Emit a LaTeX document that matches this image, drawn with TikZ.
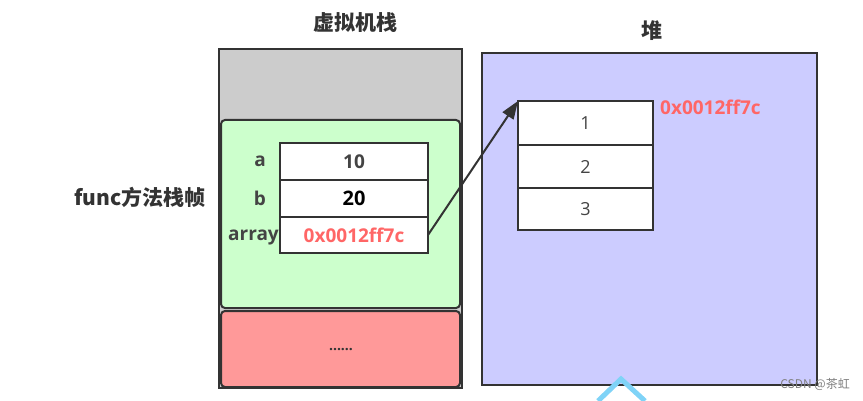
\documentclass[tikz,border=0pt]{standalone}
\usepackage{fontspec}
\setmainfont{Open Sans}
\newfontfamily\cjk{Noto Sans CJK SC}
\usetikzlibrary{arrows.meta}
\definecolor{dark}{HTML}{333333}
\definecolor{txt}{HTML}{444444}
\definecolor{grayfill}{HTML}{CCCCCC}
\definecolor{greenfill}{HTML}{CCFFCC}
\definecolor{redfill}{HTML}{FF9999}
\definecolor{heapfill}{HTML}{CCCCFF}
\definecolor{addr}{HTML}{FF6666}
\definecolor{logo}{HTML}{7FD3F7}
\tikzset{
  region/.style={draw=dark, line width=2.6pt, inner sep=0pt, outer sep=0pt},
  cell/.style={draw=dark, line width=2.2pt, fill=white, inner sep=0pt, outer sep=0pt},
  lbl/.style={text=txt, font=\fontsize{19}{22}\selectfont\bfseries, inner sep=0pt},
  num/.style={text=txt, font=\fontsize{18}{21}\selectfont, inner sep=0pt},
  title/.style={text=dark, font=\cjk\fontsize{21}{24}\selectfont\bfseries, inner sep=0pt},
}
\begin{document}
\begin{tikzpicture}[x=1pt,y=-1pt]
\useasboundingbox (0,0) rectangle (863,401);
% stack
\node[region, fill=grayfill, minimum width=243pt, minimum height=339pt] (stack) at (340.5,218.5) {};
\node[region, fill=greenfill, rounded corners=4pt, line width=2pt, minimum width=239pt, minimum height=188pt] (frame) at (340.5,214) {};
\node[region, fill=redfill, rounded corners=4pt, line width=2pt, minimum width=239pt, minimum height=76pt] (rest) at (340.5,349) {};
\node[text=dark, font=\fontsize{14}{16}\selectfont\bfseries, inner sep=0pt] (dots) at (341,350) {......};
\node[title] (stacktitle) at (355,23) {虚拟机栈};
\node[title] (functitle) at (140,197) {func方法栈帧};
% stack cells
\node[cell, minimum width=148pt, minimum height=37pt] (ca) at (354,161.5) {};
\node[cell, minimum width=148pt, minimum height=37pt] (cb) at (354,198.5) {};
\node[cell, minimum width=148pt, minimum height=36pt] (carr) at (354,235) {};
\node[lbl] at (ca) {10};
\node[lbl, text=black, font=\fontsize{20}{22}\selectfont\bfseries] at (cb) {20};
\node[lbl, text=addr] at (carr) {0x0012ff7c};
\node[lbl] (la) at (260,161) {a};
\node[lbl] (lb) at (260,198) {b};
\node[lbl, anchor=east] (larr) at (279,237) {array};
% heap
\node[region, fill=heapfill, minimum width=335pt, minimum height=332pt] (heap) at (649.5,219) {};
\node[title] (heaptitle) at (652,31) {堆};
\node[cell, minimum width=135pt, minimum height=44pt] (h1) at (585.5,123) {};
\node[cell, minimum width=135pt, minimum height=43pt] (h2) at (585.5,166.5) {};
\node[cell, minimum width=135pt, minimum height=42pt] (h3) at (585.5,209) {};
\node[num] at (h1) {1};
\node[num] at (h2) {2};
\node[num] at (h3) {3};
\node[lbl, text=addr, anchor=west] (haddr) at (660,107) {0x0012ff7c};
% arrow
\draw[draw=dark, line width=2pt, -{Triangle[length=18pt,width=13pt]}] (carr.east) -- (h1.north west);
% watermark
\draw[logo, line width=5pt] (598,401) -- (621,379) -- (645,401);
\node[text=gray, font=\cjk\fontsize{12}{13}\selectfont, anchor=east, inner sep=0pt] (wm) at (850,384) {CSDN @茶虹};
\end{tikzpicture}
\end{document}
